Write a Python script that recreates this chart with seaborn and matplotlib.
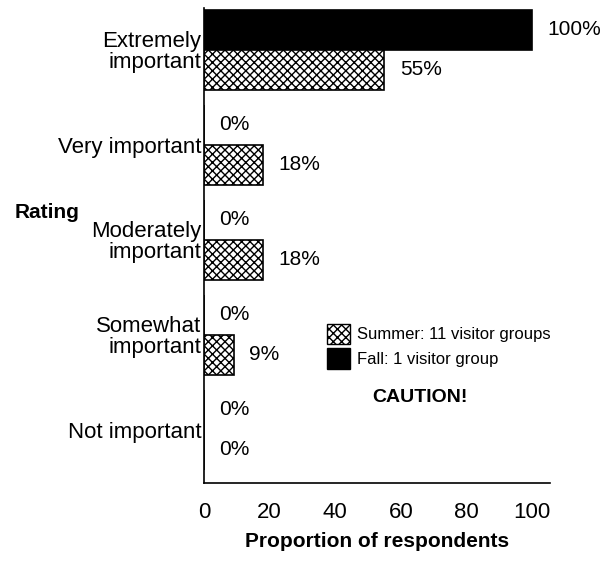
import numpy as np
import pandas as pd
import matplotlib
matplotlib.use('Agg')
import matplotlib.pyplot as plt
import matplotlib.patches as mpatches
import seaborn as sns

ratings = ["Extremely\nimportant", "Very important", "Moderately\nimportant",
           "Somewhat\nimportant", "Not important"]
fall_pct = [100, 0, 0, 0, 0]
summer_pct = [55, 18, 18, 9, 0]
seasons = ["Fall", "Summer"]
legend_labels = ["Summer: 11 visitor groups", "Fall: 1 visitor group"]

sns.set_style("white")
plt.rcParams['font.family'] = ['Liberation Sans', 'DejaVu Sans']
plt.rcParams['hatch.linewidth'] = 1.0
for k in ['text.color', 'axes.labelcolor', 'xtick.color', 'ytick.color']:
    plt.rcParams[k] = 'black'

df = pd.DataFrame({
    "rating": ratings * 2,
    "pct": fall_pct + summer_pct,
    "season": ["Fall"] * len(ratings) + ["Summer"] * len(ratings),
})

fig = plt.figure(figsize=(6.12, 5.63), dpi=100)
ax = fig.add_axes([204 / 612, 1 - 483 / 563, 346 / 612, 475 / 563])

sns.barplot(data=df, y="rating", x="pct", hue="season", hue_order=seasons,
            order=ratings, palette=["black", "white"], edgecolor="black",
            linewidth=1.2, orient="h", width=0.84, dodge=True, ax=ax, legend=False)

# summer bars get the cross hatch
for bar in ax.containers[1]:
    bar.set_hatch("xxxx")

for cont, vals in zip(ax.containers, [fall_pct, summer_pct]):
    ax.bar_label(cont, labels=[f"{v}%" for v in vals], padding=11, fontsize=15)

ax.set_xlim(0, 105.5)
ax.set_ylim(4.56, -0.44)
ax.set_xticks([0, 20, 40, 60, 80, 100])
ax.tick_params(axis="x", direction="out", length=9, width=1.2, labelsize=16, pad=5)
ax.tick_params(axis="y", length=0, labelsize=16, pad=2)
for lbl in ax.get_yticklabels():
    lbl.set_linespacing(1.0)
ax.set_ylabel("")
ax.set_xlabel("Proportion of respondents", fontsize=15, fontweight="bold", labelpad=6)
sns.despine(ax=ax)
for s in ["left", "bottom"]:
    ax.spines[s].set_color("black")
    ax.spines[s].set_linewidth(1.2)

fig.text(15 / 612, 1 - 213 / 563, "Rating", fontsize=15, fontweight="bold",
         ha="left", va="center")

handles = [mpatches.Patch(facecolor="white", edgecolor="black", hatch="xxxx"),
           mpatches.Patch(facecolor="black", edgecolor="black")]
ax.legend(handles, legend_labels, loc="upper left", frameon=False, fontsize=12,
          bbox_to_anchor=(315 / 612, 1 - 312 / 563), bbox_transform=fig.transFigure,
          handlelength=1.4, handleheight=1.5, handletextpad=0.4, labelspacing=0.25,
          borderpad=0.2)
fig.text(420 / 612, 1 - 398 / 563, "CAUTION!", fontsize=14, fontweight="bold",
         ha="center", va="center")

fig.savefig("out.png", dpi=100)
